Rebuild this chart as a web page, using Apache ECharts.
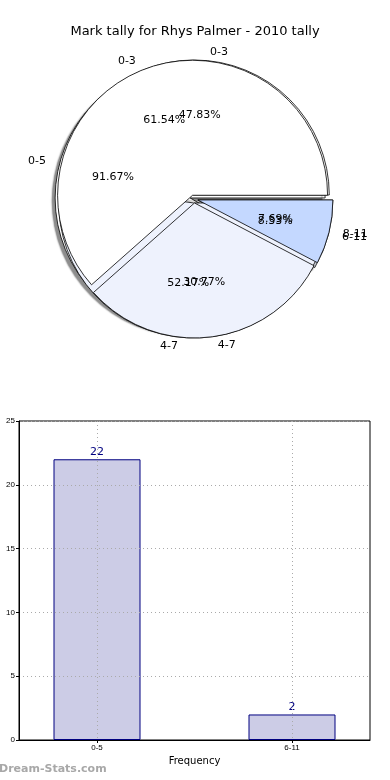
<!DOCTYPE html>
<html><head><meta charset="utf-8">
<script src="https://cdn.jsdelivr.net/npm/echarts@6/dist/echarts.min.js"></script>
<style>html,body{margin:0;padding:0;background:#fff}#c{width:390px;height:780px}</style>
</head><body><div id="c"></div>
<script>
const titleText = 'Mark tally for Rhys Palmer - 2010 tally';
const pieANames = ['0-5', '6-11'];
const pieAValues = [91.67, 8.33];
const pieCNames = ['0-3', '4-7'];
const pieCValues = [47.83, 52.17];
const pieBNames = ['0-3', '4-7', '8-11'];
const pieBValues = [61.54, 30.77, 7.69];
const barCategories = ['0-5', '6-11'];
const barValues = [22, 2];
const yTicks = [0, 5, 10, 15, 20, 25];

const sliceColors = ['#ffffff', '#eef2fd', '#c4d8ff'];
const CX = 194, CY = 199, R = 135;
const FONT = 'DejaVu Sans';

function pieSeries(names, values, z, shadow) {
  const data = names.map((n, i) => ({
    name: n, value: values[i], selected: true,
    itemStyle: { color: sliceColors[i] }
  }));
  const main = {
    type: 'pie', center: [CX, CY], radius: [0, R], startAngle: 0, clockwise: false,
    selectedMode: 'multiple', selectedOffset: 4, avoidLabelOverlap: false, silent: true,
    animation: false, z: z, labelLayout: { hideOverlap: false },
    itemStyle: { borderColor: '#000', borderWidth: 0.8,
      shadowColor: shadow ? 'rgba(0,0,0,0.45)' : 'transparent', shadowBlur: shadow ? 1.5 : 0,
      shadowOffsetX: shadow ? -3 : 0, shadowOffsetY: shadow ? 3 : 0 },
    label: { show: true, position: 'outside', formatter: '{b}', fontSize: 11, color: '#000', fontFamily: FONT, distanceToLabelLine: 0 },
    labelLine: { show: false, length: 8, length2: 6 },
    data: data
  };
  const pct = {
    type: 'pie', center: [CX, CY], radius: [R * 0.2, R], startAngle: 0, clockwise: false,
    avoidLabelOverlap: false, silent: true, animation: false, z: z + 10,
    labelLayout: { hideOverlap: false },
    itemStyle: { color: 'rgba(0,0,0,0)', borderWidth: 0 },
    label: { show: true, position: 'inside', formatter: p => p.value.toFixed(2) + '%', fontSize: 11, color: '#000', fontFamily: FONT },
    labelLine: { show: false },
    data: names.map((n, i) => ({ name: n, value: values[i] }))
  };
  return [main, pct];
}

// category slots: bars sit at slot 2 and 7 of 10 (boundaryGap false)
const SLOTS = 10;
const barSlots = barCategories.map((c, i) => 2 + 5 * i);
const xData = Array.from({ length: SLOTS }, (_, k) => {
  const j = barSlots.indexOf(k);
  return j >= 0 ? barCategories[j] : ' ' + k;
});
const isBarSlot = (i) => barSlots.indexOf(i) >= 0;

const chart = echarts.init(document.getElementById('c'), null, { renderer: 'canvas' });
chart.setOption({
  animation: false,
  title: { text: titleText, left: 'center', top: 20, textStyle: { fontSize: 13, fontWeight: 'normal', color: '#000', fontFamily: FONT } },
  grid: { left: 19, right: 20, top: 421, bottom: 40, containLabel: false, outerBoundsMode: 'none',
    show: true, borderColor: '#000', borderWidth: 1, backgroundColor: 'transparent' },
  xAxis: {
    type: 'category', boundaryGap: false, data: xData, z: 5,
    name: 'Frequency', nameLocation: 'middle', nameGap: 16, nameTextStyle: { fontSize: 10, color: '#000', fontFamily: FONT },
    axisLine: { show: true, lineStyle: { color: '#000' } },
    axisTick: { show: true, interval: isBarSlot, length: 3, lineStyle: { color: '#000' } },
    axisLabel: { interval: isBarSlot, fontSize: 8, color: '#000', margin: 4 },
    splitLine: { show: true, interval: isBarSlot, lineStyle: { color: '#aaaaaa', type: [1, 3], width: 1 } }
  },
  yAxis: {
    type: 'value', min: yTicks[0], max: yTicks[yTicks.length - 1], interval: 5, z: 5,
    name: 'Mark tally count', nameLocation: 'middle', nameGap: 8, nameTextStyle: { fontSize: 9, color: '#000', fontFamily: FONT },
    axisLine: { show: true, lineStyle: { color: '#000' } },
    axisTick: { show: true, length: 3, lineStyle: { color: '#000' } },
    axisLabel: { fontSize: 8, color: '#000', margin: 4 },
    splitLine: { show: true, lineStyle: { color: '#aaaaaa', type: [1, 3], width: 1 } }
  },
  series: [
    ...pieSeries(pieANames, pieAValues, 2, true),
    ...pieSeries(pieCNames, pieCValues, 3, false),
    ...pieSeries(pieBNames, pieBValues, 4, false),
    {
      type: 'bar', barWidth: 87, z: 2,
      data: xData.map((c, k) => {
        const j = barSlots.indexOf(k);
        return j >= 0 ? barValues[j] : '-';
      }),
      itemStyle: { color: '#ccccE6', borderColor: '#000080', borderWidth: 1 },
      label: { show: true, position: 'top', distance: 2, color: '#000080', fontSize: 11, fontFamily: FONT }
    }
  ],
  graphic: [{
    type: 'text', left: -1, top: 764,
    style: { text: 'Dream-Stats.com', fontSize: 11, fontWeight: 'bold', fill: '#a8a8a8', fontFamily: FONT }
  }]
});
</script></body></html>
